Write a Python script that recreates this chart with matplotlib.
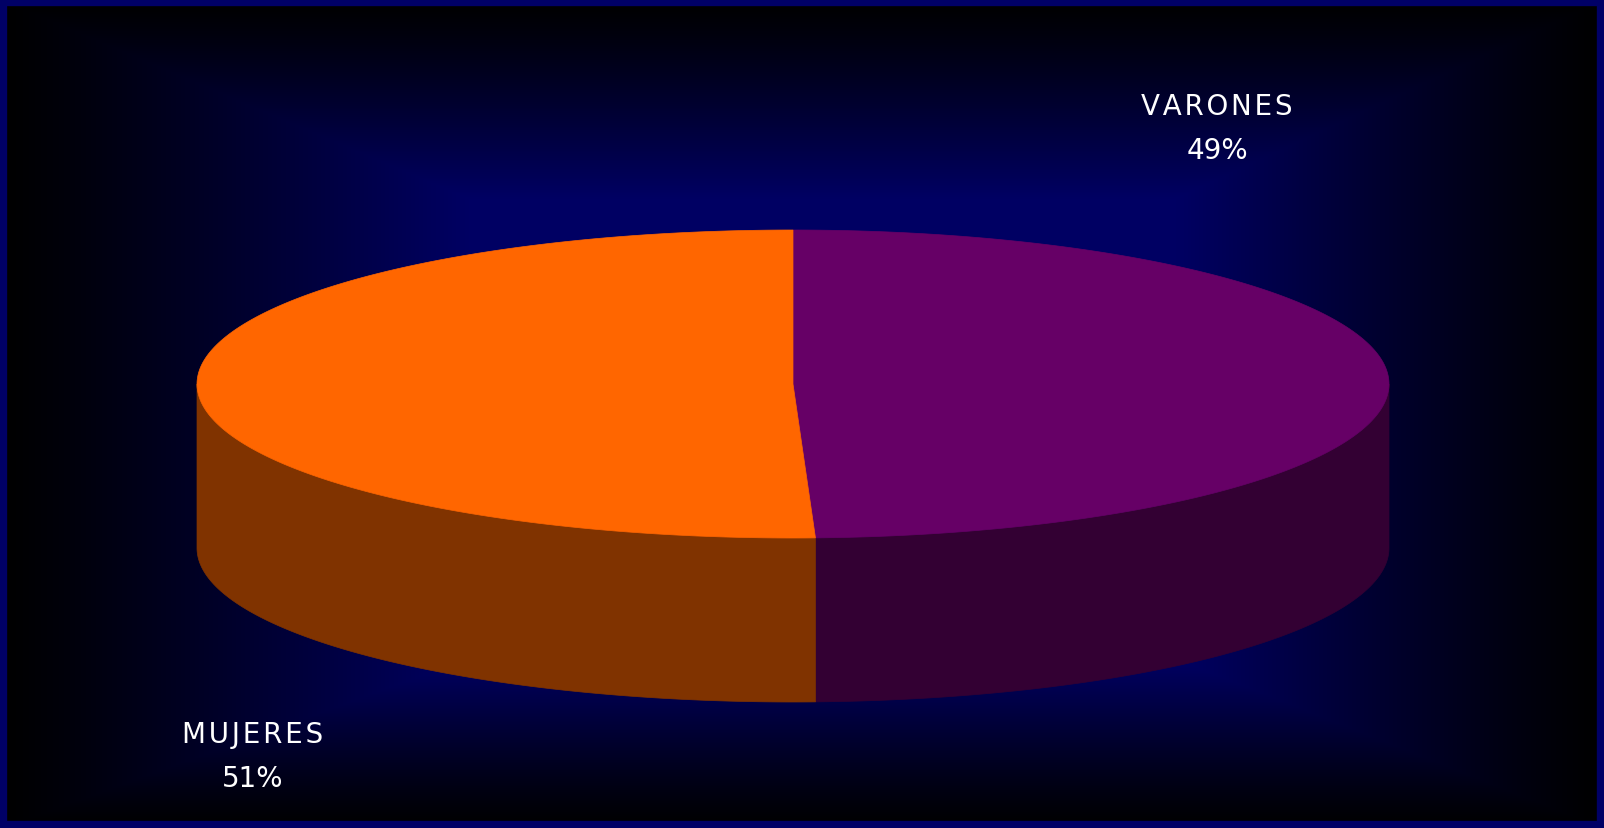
import numpy as np
import matplotlib.pyplot as plt
from matplotlib.patches import Polygon, Rectangle

# data
labels = ["VARONES", "MUJERES"]
values = [49.4, 50.6]
pct_labels = ["49%", "51%"]
top_colors = ["#660066", "#FF6600"]
side_colors = ["#330033", "#803300"]

W, H = 1604, 829
fig = plt.figure(figsize=(W / 100, H / 100), dpi=100)
ax = fig.add_axes([0, 0, 1, 1])
ax.set_xlim(0, W)
ax.set_ylim(H, 0)
ax.axis("off")

# rectangular "from center" gradient: navy inside, black towards the edges
yy, xx = np.mgrid[0:H, 0:W].astype(float)
fx = np.minimum(xx / 470.0, (W - xx) / 430.0)
fy = np.minimum(yy / 200.0, (H - yy) / 170.0)
t = np.clip(np.minimum(fx, fy), 0, 1) ** 1.15
bg = np.zeros((H, W, 3))
bg[..., 2] = 0.39 * t
ax.imshow(bg, extent=[0, W, H, 0], zorder=0, aspect="auto")
ax.add_patch(Rectangle((3, 3), W - 6, H - 6, fill=False, ec="#000066",
                       lw=6, zorder=10))

# 3d pie geometry
cx, cy, rx, ry, depth = 793, 385, 596, 154, 164
total = sum(values)
angles = [90.0]
for v in values:
    angles.append(angles[-1] - 360.0 * v / total)


def pt(theta):
    th = np.radians(theta)
    return cx + rx * np.cos(th), cy - ry * np.sin(th)


# sides (only the front half, 180..360 deg, is visible)
for i in range(len(values)):
    lo = angles[i + 1] % 360
    hi = lo + (angles[i] - angles[i + 1])
    for off in (0, 360):
        u0, u1 = max(lo + off, 180), min(hi + off, 360)
        if u1 > u0:
            th = np.linspace(u0, u1, 200)
            x, y = pt(th)
            poly = np.column_stack([np.r_[x, x[::-1]], np.r_[y, y[::-1] + depth]])
            ax.add_patch(Polygon(poly, closed=True, fc=side_colors[i],
                                 ec=side_colors[i], lw=0.5, zorder=2))

# top faces
for i in range(len(values)):
    th = np.linspace(angles[i], angles[i + 1], 400)
    x, y = pt(th)
    poly = np.column_stack([np.r_[cx, x], np.r_[cy, y]])
    ax.add_patch(Polygon(poly, closed=True, fc=top_colors[i],
                         ec=top_colors[i], lw=0.5, zorder=3))

# labels (letters spread a little, like the original)
label_pos = [(1217, 129), (253, 757)]
for lab, pct, (lx, ly) in zip(labels, pct_labels, label_pos):
    txt = "\u200a".join(lab) + "\n" + pct
    ax.text(lx, ly, txt, color="white", ha="center", va="center",
            fontsize=20, family="DejaVu Sans", linespacing=1.75, zorder=5)

fig.savefig("out.png", dpi=100, facecolor="black")
